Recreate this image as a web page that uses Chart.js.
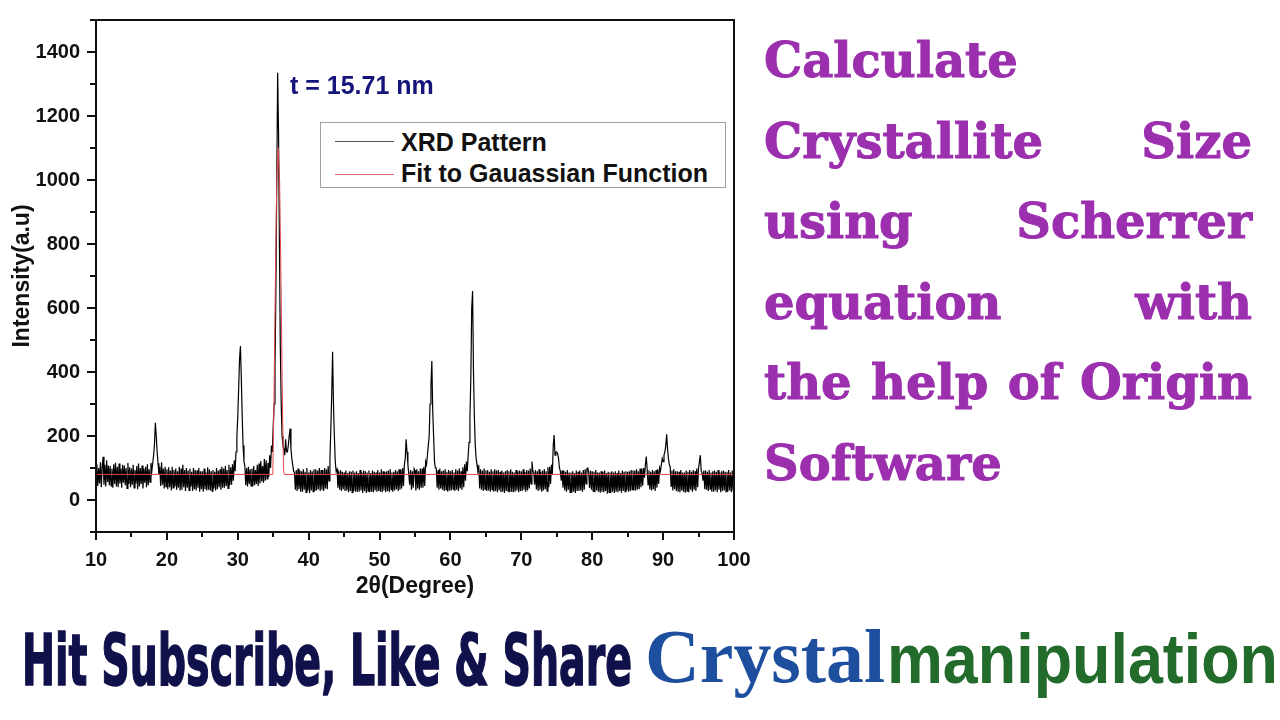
<!DOCTYPE html>
<html>
<head>
<meta charset="utf-8">
<script src="https://cdn.jsdelivr.net/npm/chart.js@4.4.1/dist/chart.umd.min.js"></script>
<style>
html,body{margin:0;padding:0;background:#fff;width:1280px;height:720px;overflow:hidden;position:relative;}
#c{position:absolute;left:0;top:0;}
#tlabel{position:absolute;left:290px;top:73px;font:bold 25px/1 "Liberation Sans",Arial,sans-serif;color:#14147a;white-space:nowrap;}
#legend{position:absolute;left:320px;top:122px;width:404px;height:64px;border:1px solid #a0a0a0;background:#fff;}
#legend .ln{position:absolute;left:14px;width:59px;height:0;border-top:1px solid #555;}
#legend .tx{position:absolute;left:80px;font:bold 25px/1 "Liberation Sans",Arial,sans-serif;color:#111;white-space:nowrap;}
#side{position:absolute;left:764px;top:20px;width:488px;font:bold 48px/80.6px "DejaVu Serif",serif;color:#9b2fae;-webkit-text-stroke:1px #9b2fae;}
#side div{text-align:left;}
#side div.j{text-align:justify;text-align-last:justify;}
.ban{position:absolute;white-space:nowrap;transform-origin:0 0;line-height:1;}
#b1{left:22px;top:625px;font-family:"DejaVu Sans Condensed","DejaVu Sans",sans-serif;font-stretch:condensed;font-weight:bold;font-size:71px;color:#10104a;-webkit-text-stroke:1.5px #10104a;}
#b2{left:645px;top:618px;font-family:"Liberation Serif","DejaVu Serif",serif;font-weight:bold;font-size:77px;color:#1d4f9e;}
#b3{left:887px;top:624px;font-family:"Liberation Sans",Arial,sans-serif;font-weight:bold;font-size:70px;color:#226b2b;}
</style>
</head>
<body>
<canvas id="c" width="1280" height="720"></canvas>
<div id="tlabel">t = 15.71 nm</div>
<div id="legend"></div>
<div id="side">
  <div>Calculate</div>
  <div class="j">Crystallite Size</div>
  <div class="j">using Scherrer</div>
  <div class="j">equation with</div>
  <div class="j">the help of Origin</div>
  <div>Software</div>
</div>
<span class="ban" id="b1">Hit Subscribe, Like &amp; Share</span>
<span class="ban" id="b2">Crystal</span>
<span class="ban" id="b3">manipulation</span>
<script>
// ---- Data ----
// XRD intensity sampled every 0.125 degree (8 values per degree row)
const gridStart = 10;
const gridStep = 0.125;
const xrd10to40 = [
  74,112,44,100,52,118,40,104,    // 10
  135,48,110,42,124,56,108,46,    // 11
  106,44,98,38,112,50,116,42,     // 12
  104,40,114,52,98,38,110,54,     // 13
  108,46,100,36,116,50,102,40,    // 14
  98,48,110,38,94,52,106,34,      // 15
  114,42,100,50,108,36,98,54,     // 16
  104,40,112,46,96,56,116,90,     // 17
  115,140,175,241,200,150,115,80, // 18
  104,44,118,48,98,36,104,42,     // 19
  96,34,102,40,92,30,104,38,      // 20
  94,42,98,32,90,38,104,30,       // 21
  98,32,110,40,94,28,100,38,      // 22
  92,30,98,42,88,28,100,34,       // 23
  94,30,92,38,100,26,90,34,       // 24
  90,26,98,34,86,30,102,32,       // 25
  96,30,90,28,94,36,88,30,        // 26
  100,34,92,40,96,32,104,38,      // 27
  98,38,106,44,94,36,110,46,      // 28
  102,48,112,60,124,90,150,200,   // 29
  260,350,440,481,380,260,170,120,// 30
  106,46,100,42,104,50,96,44,     // 31
  98,42,106,46,94,50,110,44,      // 32
  114,52,122,58,106,54,128,60,    // 33
  124,66,116,72,140,100,170,150,  // 34
  230,300,420,650,1000,1335,1150,800, // 35
  480,300,200,170,160,140,190,150,// 36
  150,170,200,223,160,130,110,90, // 37
  86,32,94,28,98,34,92,26,        // 38
  90,26,96,32,88,24,100,30        // 39
];
const xrd40to70 = [
  86,22,94,30,90,26,96,28,        // 40
  96,30,92,34,100,28,94,32,       // 41
  94,28,100,36,96,34,106,60,      // 42
  130,220,330,463,300,200,120,90, // 43
  96,38,90,32,94,28,88,34,        // 44
  86,28,92,30,84,24,90,28,        // 45
  88,24,92,28,86,26,90,26,        // 46
  84,26,94,30,86,22,92,28,        // 47
  90,22,86,28,92,24,84,26,        // 48
  92,24,88,30,86,26,94,28,        // 49
  86,26,96,24,90,30,88,24,        // 50
  90,28,92,24,96,32,86,26,        // 51
  88,30,94,34,90,28,96,32,        // 52
  96,36,100,44,110,130,190,150,   // 53
  110,80,48,94,32,90,38,98,       // 54
  92,30,96,36,90,32,98,38,        // 55
  98,38,104,44,120,110,140,170,   // 56
  200,300,360,434,280,200,120,100,// 57
  100,38,94,32,98,36,90,32,       // 58
  92,28,96,32,88,26,94,30,        // 59
  90,30,94,34,86,28,96,32,        // 60
  92,28,98,36,90,32,102,40,       // 61
  112,60,120,90,140,180,260,380,  // 62
  600,653,400,260,170,130,110,90, // 63
  100,36,96,32,92,28,98,34,       // 64
  92,28,94,30,88,26,96,32,        // 65
  90,26,96,28,92,24,94,30,        // 66
  88,24,92,26,86,22,90,28,        // 67
  94,28,90,24,96,26,88,24,        // 68
  86,26,94,30,90,24,92,28         // 69
];
const xrd70to100 = [
  90,28,96,32,88,26,94,30,        // 70
  92,36,98,50,120,90,86,48,       // 71
  94,33,90,28,96,32,88,26,        // 72
  92,30,96,34,90,28,102,40,       // 73
  104,50,110,80,170,203,140,150,  // 74
  150,145,130,100,90,60,92,38,    // 75
  92,30,88,26,94,32,86,24,        // 76
  86,23,90,26,84,22,92,28,        // 77
  88,28,92,30,86,26,94,32,        // 78
  96,50,98,100,84,38,92,32,       // 79
  90,28,88,24,94,30,86,26,        // 80
  86,23,90,26,88,24,92,28,        // 81
  84,20,88,24,86,22,90,26,        // 82
  86,22,90,26,84,24,92,28,        // 83
  84,23,92,28,88,26,90,30,        // 84
  88,26,90,28,94,32,92,30,        // 85
  92,30,96,33,90,34,98,40,        // 86
  98,45,100,70,110,136,96,48,     // 87
  92,33,88,30,94,34,90,28,        // 88
  94,38,96,50,100,90,110,130,     // 89
  120,140,150,170,205,160,130,110,// 90
  104,43,92,30,96,34,90,28,       // 91
  90,26,88,24,94,30,86,26,        // 92
  86,23,92,28,88,24,94,32,        // 93
  88,26,94,32,90,28,98,40,        // 94
  100,120,140,90,84,60,92,34,     // 95
  92,32,88,28,94,34,86,26,        // 96
  90,26,92,30,88,24,94,32,        // 97
  86,24,90,28,92,30,88,26,        // 98
  88,26,94,30,86,24,92,28,        // 99
  80                              // 100
];
// Gaussian fit curve
const fitAngles = [10, 34.85, 34.95, 35.1, 35.3, 35.5, 35.7, 35.9, 36.1, 36.3, 36.45, 36.55, 100];
const fitValues = [80, 80,    95,    300,  680,  1000, 1102, 1000, 680,  300,  95,    80,    80];
// Axes
const xTicks = [10,20,30,40,50,60,70,80,90,100];
const xMinor = [15,25,35,45,55,65,75,85,95];
const yTicks = [0,200,400,600,800,1000,1200,1400];
const yMinor = [-100,100,300,500,700,900,1100,1300,1500];
const seriesNames = ['XRD Pattern','Fit to Gauassian Function'];
const seriesColors = ['#000000','#e0474a'];

// ---- Build point tables ----
const xrdValues = xrd10to40.concat(xrd40to70, xrd70to100);
const xrdPoints = xrdValues.map((v,i)=>({x: gridStart + i*gridStep, y: v}));
const fitPoints = fitAngles.map((a,i)=>({x:a, y:fitValues[i]}));

Chart.defaults.font.family = '"Liberation Sans", Arial, sans-serif';
Chart.defaults.color = '#111';

const frameTicks = {
  id:'frameTicks',
  afterDraw(chart){
    const {ctx, chartArea:{left,right,top,bottom}, scales:{x,y}} = chart;
    ctx.save();
    ctx.strokeStyle = '#111';
    ctx.lineWidth = 2;
    ctx.strokeRect(left, top, right-left, bottom-top);
    ctx.beginPath();
    xTicks.forEach(v=>{const p=Math.round(x.getPixelForValue(v)); ctx.moveTo(p,bottom); ctx.lineTo(p,bottom+8);});
    xMinor.forEach(v=>{const p=Math.round(x.getPixelForValue(v)); ctx.moveTo(p,bottom); ctx.lineTo(p,bottom+5);});
    yTicks.forEach(v=>{const p=Math.round(y.getPixelForValue(v)); ctx.moveTo(left,p); ctx.lineTo(left-9,p);});
    yMinor.forEach(v=>{const p=Math.round(y.getPixelForValue(v)); ctx.moveTo(left,p); ctx.lineTo(left-6,p);});
    ctx.stroke();
    ctx.restore();
  }
};

const chart = new Chart(document.getElementById('c'), {
  type:'line',
  data:{
    datasets:[
      {label:seriesNames[0], data:xrdPoints, borderColor:seriesColors[0], borderWidth:1.2, pointRadius:0, tension:0, order:1},
      {label:seriesNames[1], data:fitPoints, borderColor:seriesColors[1], borderWidth:1, pointRadius:0, tension:0, order:0}
    ]
  },
  options:{
    responsive:false,
    animation:false,
    events:[],
    layout:{padding:{left:0, top:13, right:546, bottom:108}},
    plugins:{legend:{display:false}, tooltip:{enabled:false}},
    scales:{
      x:{
        type:'linear', min:10, max:100,
        afterBuildTicks(s){ s.ticks = xTicks.map(v=>({value:v})); },
        afterFit(s){ s.height = 80; },
        grid:{display:false, drawTicks:true, tickLength:8},
        border:{display:false},
        ticks:{padding:8, maxRotation:0, autoSkip:false, font:{size:20, weight:'bold'}, color:'#111', callback:(v)=>String(v)},
        title:{display:true, text:'2θ(Degree)', font:{size:23, weight:'bold'}, color:'#111', padding:{top:0,bottom:12}}
      },
      y:{
        type:'linear', min:-100, max:1500,
        afterBuildTicks(s){ s.ticks = yTicks.map(v=>({value:v})); },
        afterFit(s){ s.width = 96; },
        grid:{display:false, drawTicks:true, tickLength:8},
        border:{display:false},
        ticks:{padding:8, autoSkip:false, font:{size:20, weight:'bold'}, color:'#111', callback:(v)=>String(v)},
        title:{display:true, text:'Intensity(a.u)', font:{size:23, weight:'bold'}, color:'#111', padding:{top:9,bottom:0}}
      }
    }
  },
  plugins:[frameTicks]
});

// Legend built from the chart datasets
const lg = document.getElementById('legend');
const rowLineY = [18, 51];
const rowTextY = [7, 38];
chart.data.datasets.forEach((ds,i)=>{
  const l = document.createElement('div'); l.className='ln';
  l.style.top = rowLineY[i]+'px'; l.style.borderTopColor = i===0 ? '#555' : '#e06a6a';
  const t = document.createElement('div'); t.className='tx';
  t.style.top = rowTextY[i]+'px'; t.textContent = ds.label;
  lg.appendChild(l); lg.appendChild(t);
});

// Fit banner words to their widths
function fitW(id, w){ const el=document.getElementById(id); const nat=el.getBoundingClientRect().width; el.style.transform='scaleX('+(w/nat)+')'; }
fitW('b1', 610); fitW('b2', 240); fitW('b3', 391);
</script>
</body>
</html>
